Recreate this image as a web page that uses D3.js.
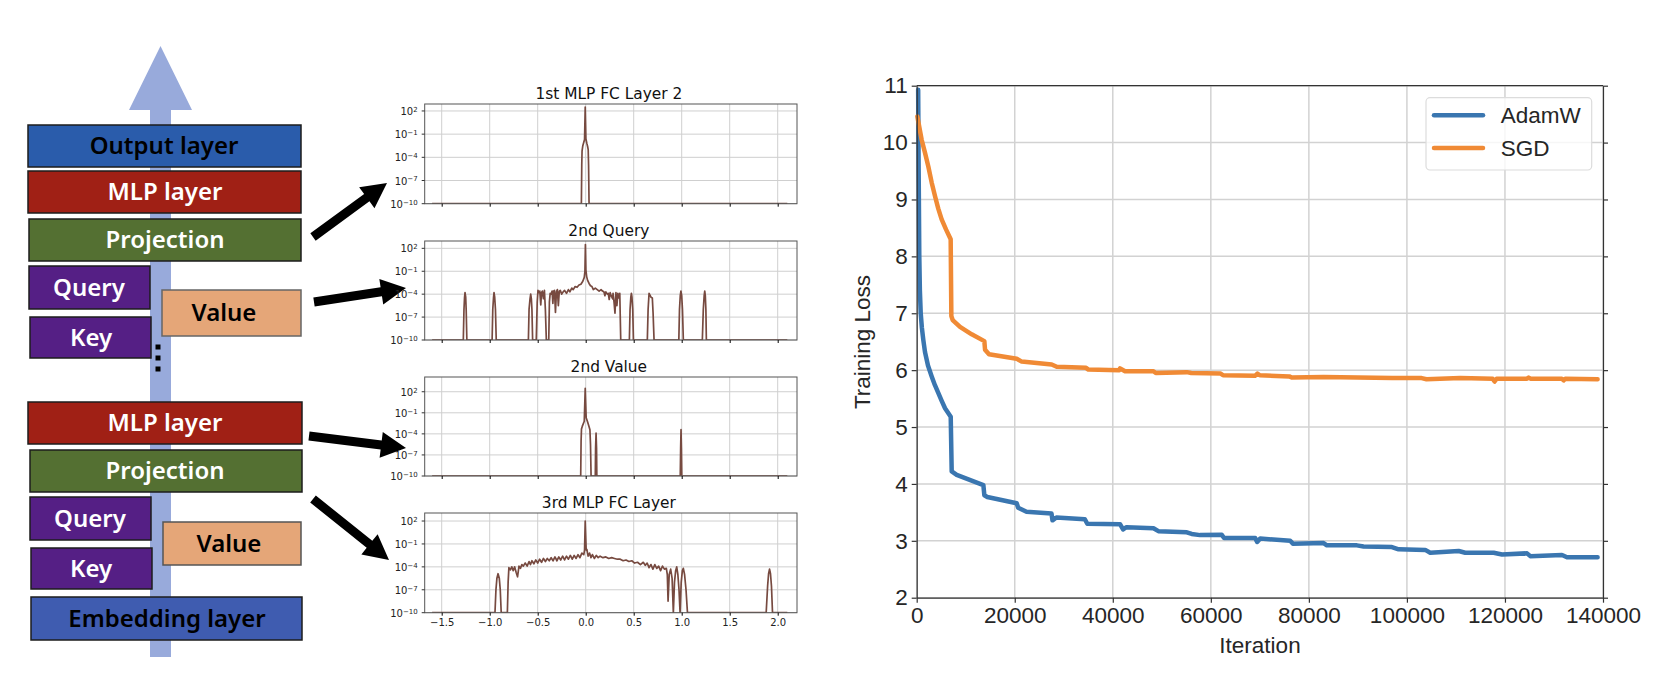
<!DOCTYPE html>
<html>
<head>
<meta charset="utf-8">
<script src="https://cdn.jsdelivr.net/npm/d3@7"></script>
<style>
html, body { margin: 0; padding: 0; background: #fff; }
svg { display: block; }
</style>
</head>
<body>
<div id="chart"></div>
<script>
// Layer stack labels, top to bottom
const layerLabels = ["Output layer", "MLP layer", "Projection", "Query", "Key", "Value",
	"MLP layer", "Projection", "Query", "Key", "Value", "Embedding layer"];

// Small panels: titles and x ticks
const panelTitles = ["1st MLP FC Layer 2", "2nd Query", "2nd Value", "3rd MLP FC Layer"];
const panelXTicks = [-1.5, -1, -0.5, 0, 0.5, 1, 1.5, 2];
const panelYExps = [2, -1, -4, -7, -10];

// Panel curves, x value and log10 of y
const mlp1X = [-1.6, -0.045, -0.041, -0.038, -0.03, -0.012, -0.005, 0.002, 0.012, 0.02, 0.026, 0.03, 0.035, 2.1];
const mlp1LogY = [-10, -10, -5, -3.2, -2.5, -1.7, 2.5, -1.6, -2.2, -2.6, -3, -5, -10, -10];

const queryX = [-1.6, -1.275, -1.268, -1.262, -1.257, -1.25, -1.245, -1.238, -0.975, -0.968, -0.96, -0.955, -0.948, -0.94, -0.932,
	-0.597, -0.59, -0.58, -0.573, -0.566, -0.56, -0.553, -0.515, -0.505, -0.497, -0.485, -0.478, -0.468, -0.46, -0.452, -0.44, -0.43,
	-0.42, -0.41, -0.385, -0.378, -0.37, -0.36, -0.35, -0.342, -0.335, -0.325, -0.315, -0.305, -0.295, -0.285, -0.275, -0.265,
	-0.25, -0.235, -0.22, -0.2, -0.18, -0.165, -0.145, -0.13, -0.11, -0.09, -0.07, -0.05, -0.03, -0.015, -0.008, -0.003,
	0.002, 0.01, 0.02, 0.035, 0.05, 0.065, 0.08, 0.1, 0.12, 0.14, 0.16, 0.175, 0.19, 0.2, 0.21, 0.225, 0.235, 0.245, 0.255, 0.265,
	0.28, 0.285, 0.295, 0.305, 0.315, 0.325, 0.335, 0.345, 0.355, 0.365,
	0.455, 0.462, 0.47, 0.476, 0.482, 0.49, 0.497, 0.642, 0.65, 0.66, 0.672, 0.68, 0.694, 0.702, 0.712,
	0.97, 0.977, 0.985, 0.992, 1, 1.008, 1.017, 1.215, 1.225, 1.234, 1.24, 1.246, 1.252, 1.257, 2.1];
const queryLogY = [-10, -10, -6, -4.4, -3.8, -4.4, -6, -10, -10, -6, -4.4, -3.8, -4.4, -6, -10,
	-10, -6, -4.6, -4, -4.6, -6, -10, -10, -5, -3.5, -3.8, -3.6, -5.4, -3.8, -3.6, -4.6, -3.5,
	-6, -10, -10, -5, -3.9, -4, -3.6, -5.2, -3.6, -3.5, -6.4, -3.7, -3.4, -5.5, -3.6, -3.5,
	-4, -3.7, -3.5, -3.9, -3.4, -3.7, -3.2, -3.4, -3, -3.1, -2.8, -2.7, -2.3, -1.8, -1, 2.5,
	-0.8, -1.7, -2.2, -2.6, -2.9, -3, -3.4, -3.2, -3.4, -3.6, -3.4, -3.6, -3.7, -4.2, -3.7, -4, -3.9, -4.7, -3.8, -4.2,
	-4.6, -3.9, -5, -6.5, -3.8, -5.5, -3.9, -4.5, -3.9, -10,
	-10, -6, -4.4, -3.9, -4.4, -6, -10, -10, -6, -3.9, -4.2, -4.4, -4.5, -6.5, -10,
	-10, -6, -4.2, -3.6, -4.2, -6, -10, -10, -6, -4.2, -3.6, -4.2, -6, -10, -10];

const valueX = [-1.6, -0.052, -0.048, -0.044, -0.035, -0.015, -0.005, 0.005, 0.02, 0.035, 0.044, 0.05, 0.056, 0.1, 0.103, 0.108, 0.113, 0.116,
	0.985, 0.989, 0.993, 0.997, 1.001, 2.1];
const valueLogY = [-10, -10, -5, -3.3, -2.9, -2.2, 2.5, -1.7, -2.3, -3, -3.4, -5.5, -10, -10, -6, -3.9, -6, -10,
	-10, -6, -3.4, -6, -10, -10];

const fc3X = [-1.6, -0.945, -0.935, -0.925, -0.913, -0.9, -0.89, -0.88, -0.816, -0.808, -0.8, -0.785, -0.77, -0.755, -0.74, -0.725, -0.71, -0.695, -0.68,
	-0.665, -0.65, -0.63, -0.61, -0.59, -0.575, -0.56, -0.54, -0.52, -0.5, -0.48, -0.46, -0.44, -0.42, -0.4, -0.38, -0.36, -0.34, -0.32, -0.3,
	-0.28, -0.26, -0.24, -0.22, -0.2, -0.18, -0.16, -0.14, -0.12, -0.1, -0.08, -0.06, -0.04, -0.02, -0.012, -0.005, 0.005, 0.012, 0.025,
	0.04, 0.055, 0.07, 0.09, 0.11, 0.13, 0.15, 0.18, 0.21, 0.24, 0.27, 0.3, 0.33, 0.36, 0.39, 0.42, 0.45, 0.48, 0.51, 0.54, 0.57, 0.6,
	0.62, 0.64, 0.66, 0.68, 0.7, 0.72, 0.74, 0.76, 0.78, 0.8, 0.82, 0.84, 0.85, 0.858, 0.87, 0.885, 0.9, 0.913, 0.925, 0.937, 0.948, 0.96, 0.972, 0.983,
	0.995, 1.007, 1.017, 1.03, 1.045, 1.06, 1.88, 1.895, 1.905, 1.915, 1.925, 1.935, 1.946, 2.1];
const fc3LogY = [-10, -10, -7, -5.5, -4.9, -5.5, -7, -10, -10, -6, -4.1, -4.4, -4, -4.5, -4, -4.7, -5.3, -3.9, -4.2,
	-3.7, -3.9, -3.5, -3.9, -3.3, -3.7, -3.2, -3.6, -3.1, -3.5, -3, -3.4, -2.9, -3.3, -2.9, -3.2, -2.8, -3.2, -2.7, -3.2,
	-2.7, -3.1, -2.6, -3.1, -2.6, -3, -2.5, -3, -2.5, -2.9, -2.4, -2.8, -2.2, -2.4, -1.8, 2, -1.8, -1.7, -2.6,
	-2.2, -2.8, -2.4, -2.9, -2.5, -2.8, -2.6, -2.8, -2.7, -2.9, -2.8, -2.9, -3, -3, -3.2, -3.1, -3.3, -3.2, -3.5, -3.4, -3.7, -3.4,
	-3.8, -3.5, -4.1, -3.7, -4.3, -3.7, -4.2, -3.9, -4.5, -3.9, -4.3, -4.2, -5, -8.5, -5, -4.3, -5.5, -10, -6, -4.5, -4, -5, -7, -10,
	-6, -4.5, -4.2, -5, -7, -10, -10, -6.5, -4.9, -4.3, -4.9, -6.5, -10, -10];

// Training loss
const lossXTicks = [0, 20000, 40000, 60000, 80000, 100000, 120000, 140000];
const lossYTicks = [2, 3, 4, 5, 6, 7, 8, 9, 10, 11];

const adamIter = [300, 400, 530, 650, 820, 1050, 1350, 1690, 2300, 3060, 3700, 4400, 5100, 5780, 6940, 7140, 8160, 13600, 13800, 14400, 20400, 20700, 22400, 27500, 27700, 28500,
	34300, 34800, 41500, 42100, 42800, 48300, 49300, 55100, 56100, 57800, 62240, 62700, 69050, 69450, 70070, 76190, 76740, 83000, 83670,
	89800, 91160, 96940, 98300, 103740, 104760, 110550, 111900, 117700, 119400, 124500, 125170, 131630, 132650, 138900];
const adamLoss = [10.93, 9.5, 8, 7.4, 7, 6.75, 6.53, 6.32, 6.08, 5.89, 5.74, 5.6, 5.46, 5.33, 5.18, 4.22, 4.16, 3.98, 3.8, 3.77, 3.66, 3.58, 3.51, 3.48, 3.36, 3.41,
	3.38, 3.3, 3.29, 3.2, 3.24, 3.22, 3.17, 3.15, 3.12, 3.1, 3.105, 3.05, 3.05, 2.98, 3.04, 3, 2.95, 2.96, 2.92,
	2.92, 2.9, 2.89, 2.85, 2.84, 2.79, 2.82, 2.79, 2.79, 2.76, 2.78, 2.73, 2.75, 2.71, 2.71];

const sgdIter = [130, 1010, 1700, 2370, 3050, 3730, 4400, 5090, 6000, 6930, 7070, 7340, 8840, 11220, 13800, 13940, 14750, 20400, 21420, 27540, 28560, 34550, 35020, 41300, 41490, 42510,
	48300, 48770, 55100, 56000, 62000, 62500, 69000, 69500, 70000, 76000, 76500, 83000, 90000, 97000, 103000, 104000, 110880, 117500, 117890, 118300, 124500, 124830, 125200, 131600, 131970, 132300, 138900];
const sgdLoss = [10.46, 10.05, 9.82, 9.58, 9.3, 9.06, 8.84, 8.65, 8.47, 8.3, 6.95, 6.88, 6.76, 6.63, 6.51, 6.36, 6.28, 6.2, 6.15, 6.1, 6.06, 6.04, 6.01, 6, 6.03, 5.98,
	5.98, 5.95, 5.965, 5.95, 5.94, 5.91, 5.9, 5.94, 5.91, 5.89, 5.87, 5.88, 5.87, 5.86, 5.86, 5.84, 5.86, 5.85, 5.8, 5.85, 5.85, 5.87, 5.85, 5.85, 5.82, 5.85, 5.84];

const seriesNames = ["AdamW", "SGD"];

const svg = d3.select('#chart').append('svg')
	.attr('width', 1666)
	.attr('height', 686);

// ###
// LAYER DIAGRAM
// ###

const stackBoxes = [
	{x: 28, y: 125, w: 273, h: 42, fill: '#2a5cab', ink: '#000', tx: 164},
	{x: 28, y: 171, w: 273, h: 42, fill: '#a02015', ink: '#fff', tx: 165},
	{x: 29, y: 219, w: 272, h: 42, fill: '#547032', ink: '#fff', tx: 165},
	{x: 29, y: 266, w: 121, h: 43, fill: '#551f85', ink: '#fff', tx: 89},
	{x: 30, y: 317, w: 121, h: 41, fill: '#551f85', ink: '#fff', tx: 91},
	{x: 162, y: 290, w: 139, h: 46, fill: '#e5a678', ink: '#000', tx: 224, edge: '#666'},
	{x: 28, y: 402, w: 274, h: 42, fill: '#a02015', ink: '#fff', tx: 165},
	{x: 30, y: 450, w: 272, h: 42, fill: '#547032', ink: '#fff', tx: 165},
	{x: 30, y: 497, w: 121, h: 43, fill: '#551f85', ink: '#fff', tx: 90},
	{x: 31, y: 548, w: 121, h: 41, fill: '#551f85', ink: '#fff', tx: 91},
	{x: 163, y: 522, w: 138, h: 43, fill: '#e5a678', ink: '#000', tx: 229, edge: '#555'},
	{x: 31, y: 597, w: 271, h: 43, fill: '#3f5cb0', ink: '#000', tx: 167}
];

const diagram = svg.append('g').attr('class', 'diagram');

// the big upward arrow behind the boxes
diagram.append('path')
	.attr('d', 'M150,657V110H129L160.5,46L192,110H171V657Z')
	.style('fill', '#98aadb');

diagram.selectAll('.layer')
	.data(stackBoxes)
	.enter().append('rect')
		.attr('class', 'layer')
		.attr('x', d => d.x)
		.attr('y', d => d.y)
		.attr('width', d => d.w)
		.attr('height', d => d.h)
		.style('fill', d => d.fill)
		.style('stroke', d => d.edge || '#1c1c1c')
		.style('stroke-width', 1.5);

diagram.selectAll('.layer-label')
	.data(stackBoxes)
	.enter().append('text')
		.attr('class', 'layer-label')
		.attr('x', d => d.tx)
		.attr('y', d => d.y + d.h / 2)
		.attr('dy', '.35em')
		.attr('text-anchor', 'middle')
		.style('font-family', '"Noto Sans", sans-serif')
		.style('font-size', '24px')
		.style('font-weight', 600)
		.style('fill', d => d.ink)
		.text((d, i) => layerLabels[i]);

// the three dots
diagram.selectAll('.dot')
	.data([347, 358, 369])
	.enter().append('rect')
		.attr('x', 155.5)
		.attr('y', d => d - 2.5)
		.attr('width', 5)
		.attr('height', 5)
		.style('fill', '#000');

// block arrows from the boxes to the panels
function blockArrow(tail, tip){
	const dx = tip[0] - tail[0],
		dy = tip[1] - tail[1],
		len = Math.hypot(dx, dy),
		ux = dx / len,
		uy = dy / len,
		shaft = 4.5,
		headLen = 25,
		headHalf = 13,
		bx = tip[0] - ux * headLen,
		by = tip[1] - uy * headLen;
	const pts = [
		[tail[0] - uy * shaft, tail[1] + ux * shaft],
		[bx - uy * shaft, by + ux * shaft],
		[bx - uy * headHalf, by + ux * headHalf],
		tip,
		[bx + uy * headHalf, by - ux * headHalf],
		[bx + uy * shaft, by - ux * shaft],
		[tail[0] + uy * shaft, tail[1] - ux * shaft]
	];
	return d3.line()(pts) + 'Z';
}

diagram.selectAll('.block-arrow')
	.data([
		[[313, 237], [387, 183]],
		[[314, 302], [406, 288]],
		[[309, 436], [406, 448]],
		[[313, 499], [389, 560]]
	])
	.enter().append('path')
		.attr('class', 'block-arrow')
		.attr('d', d => blockArrow(d[0], d[1]))
		.style('fill', '#000');

// ###
// SMALL PANELS
// ###

const panelLeft = 424.7,
	panelRight = 797,
	panelColor = '#774a40';

const panels = [
	{xs: mlp1X, ys: mlp1LogY, top: 104, bottom: 203.7, topExp: 2.9},
	{xs: queryX, ys: queryLogY, top: 241, bottom: 340, topExp: 2.96},
	{xs: valueX, ys: valueLogY, top: 377, bottom: 476, topExp: 4.1},
	{xs: fc3X, ys: fc3LogY, top: 513, bottom: 612.7, topExp: 3.05}
];

// x scale is shared, -1.5 sits at 441.7 and 2.0 at 777.7
const panelX = d3.scaleLinear()
	.domain([-1.5, 2])
	.range([441.7, 777.7]);

panels.forEach((p, i) => {
	const y = d3.scaleLog()
		.domain([1e-10, Math.pow(10, p.topExp)])
		.range([p.bottom, p.top]);

	const g = svg.append('g').attr('class', 'panel');

	g.append('clipPath').attr('id', 'panel-clip-' + i)
		.append('rect')
		.attr('x', panelLeft)
		.attr('y', p.top)
		.attr('width', panelRight - panelLeft)
		.attr('height', p.bottom - p.top);

	// gridlines
	g.selectAll('.grid-x')
		.data(panelXTicks)
		.enter().append('line')
			.attr('x1', d => panelX(d))
			.attr('x2', d => panelX(d))
			.attr('y1', p.top)
			.attr('y2', p.bottom)
			.style('stroke', '#cfcfcf')
			.style('stroke-width', 1);

	g.selectAll('.grid-y')
		.data(panelYExps)
		.enter().append('line')
			.attr('x1', panelLeft)
			.attr('x2', panelRight)
			.attr('y1', d => y(Math.pow(10, d)))
			.attr('y2', d => y(Math.pow(10, d)))
			.style('stroke', '#cfcfcf')
			.style('stroke-width', 1);

	const line = d3.line()
		.x(d => panelX(d[0]))
		.y(d => y(Math.pow(10, d[1])));

	g.append('path')
		.datum(d3.zip(p.xs, p.ys))
		.attr('d', line)
		.attr('clip-path', `url(#panel-clip-${i})`)
		.style('fill', 'none')
		.style('stroke', panelColor)
		.style('stroke-width', 1.7)
		.style('stroke-linejoin', 'round');

	// box
	g.append('rect')
		.attr('x', panelLeft)
		.attr('y', p.top)
		.attr('width', panelRight - panelLeft)
		.attr('height', p.bottom - p.top)
		.style('fill', 'none')
		.style('stroke', '#555')
		.style('stroke-width', 1);

	// x ticks, only the bottom panel gets labels
	const xAxis = g.append('g')
		.attr('transform', `translate(0,${p.bottom})`)
		.call(d3.axisBottom(panelX)
			.tickValues(panelXTicks)
			.tickSize(3)
			.tickFormat(i == panels.length - 1 ? d3.format('.1f') : ''));
	xAxis.select('.domain').remove();
	xAxis.selectAll('text')
		.style('font-family', '"DejaVu Sans", sans-serif')
		.style('font-size', '10px')
		.style('fill', '#222');

	// y ticks, drawn by hand because of the superscripts
	const yTick = g.selectAll('.y-tick')
		.data(panelYExps)
		.enter().append('g')
			.attr('transform', d => `translate(${panelLeft},${y(Math.pow(10, d))})`);

	yTick.append('line')
		.attr('x2', -3)
		.style('stroke', '#333');

	const yText = yTick.append('text')
		.attr('x', -7)
		.attr('dy', '.4em')
		.attr('text-anchor', 'end')
		.style('font-family', '"DejaVu Sans", sans-serif')
		.style('font-size', '10px')
		.style('fill', '#222');
	yText.append('tspan').text('10');
	yText.append('tspan')
		.attr('dy', '-.45em')
		.style('font-size', '7px')
		.text(d => d < 0 ? '\u2212' + (-d) : d);

	g.append('text')
		.attr('x', (panelLeft + panelRight) / 2 - 2)
		.attr('y', p.top - 5)
		.attr('text-anchor', 'middle')
		.style('font-family', '"DejaVu Sans", sans-serif')
		.style('font-size', '15.4px')
		.style('fill', '#111')
		.text(panelTitles[i]);
});

// ###
// TRAINING LOSS
// ###

const lossX = d3.scaleLinear()
	.domain([0, 140000])
	.range([916.7, 1603]);

const lossY = d3.scaleLinear()
	.domain([2, 11])
	.range([597.7, 85.7]);

const lossInk = '#262626',
	lossFont = '"Liberation Sans", Arial, sans-serif',
	gridColor = '#d2d2d2';

const lossChart = svg.append('g').attr('class', 'loss');

lossChart.selectAll('.grid-h')
	.data(lossYTicks)
	.enter().append('line')
		.attr('x1', lossX(0))
		.attr('x2', lossX(140000))
		.attr('y1', d => lossY(d))
		.attr('y2', d => lossY(d))
		.style('stroke', gridColor)
		.style('stroke-width', 1.5);

lossChart.selectAll('.grid-v')
	.data(lossXTicks)
	.enter().append('line')
		.attr('x1', d => lossX(d))
		.attr('x2', d => lossX(d))
		.attr('y1', lossY(11))
		.attr('y2', lossY(2))
		.style('stroke', gridColor)
		.style('stroke-width', 1.5);

const lossLine = d3.line()
	.x(d => lossX(d[0]))
	.y(d => lossY(d[1]));

const lossSeries = [
	{name: seriesNames[0], color: '#3a76b0', points: d3.zip(adamIter, adamLoss)},
	{name: seriesNames[1], color: '#f08a35', points: d3.zip(sgdIter, sgdLoss)}
];

lossChart.selectAll('.loss-line')
	.data(lossSeries)
	.enter().append('path')
		.attr('class', 'loss-line')
		.attr('d', d => lossLine(d.points))
		.style('fill', 'none')
		.style('stroke', d => d.color)
		.style('stroke-width', 4.5)
		.style('stroke-linejoin', 'round')
		.style('stroke-linecap', 'round');

// axes on three sides plus a bare line on top
function styleAxis(sel){
	sel.selectAll('path, line')
		.style('stroke', '#333')
		.style('stroke-width', 1.2);
	sel.selectAll('text')
		.style('font-family', lossFont)
		.style('font-size', '22.5px')
		.style('fill', lossInk);
}

lossChart.append('g')
	.attr('transform', `translate(${lossX(0)},0)`)
	.call(d3.axisLeft(lossY).tickValues(lossYTicks).tickSize(5).tickSizeOuter(0).tickPadding(4).tickFormat(d3.format('d')))
	.call(styleAxis);

lossChart.append('g')
	.attr('transform', `translate(${lossX(140000)},0)`)
	.call(d3.axisRight(lossY).tickValues(lossYTicks).tickSize(5).tickSizeOuter(0).tickFormat(''))
	.call(styleAxis);

lossChart.append('g')
	.attr('transform', `translate(0,${lossY(2)})`)
	.call(d3.axisBottom(lossX).tickValues(lossXTicks).tickSize(5).tickSizeOuter(0).tickPadding(4).tickFormat(d3.format('d')))
	.call(styleAxis);

lossChart.append('line')
	.attr('x1', lossX(0))
	.attr('x2', lossX(140000))
	.attr('y1', lossY(11))
	.attr('y2', lossY(11))
	.style('stroke', '#333')
	.style('stroke-width', 1.2);

lossChart.append('text')
	.attr('transform', `translate(862,342)rotate(-90)`)
	.attr('text-anchor', 'middle')
	.attr('dy', '.35em')
	.style('font-family', lossFont)
	.style('font-size', '22.5px')
	.style('fill', lossInk)
	.text('Training Loss');

lossChart.append('text')
	.attr('x', 1260)
	.attr('y', 653)
	.attr('text-anchor', 'middle')
	.style('font-family', lossFont)
	.style('font-size', '22.5px')
	.style('fill', lossInk)
	.text('Iteration');

// legend
const legend = lossChart.append('g').attr('class', 'legend');

legend.append('rect')
	.attr('x', 1426)
	.attr('y', 97.7)
	.attr('width', 165.7)
	.attr('height', 72.3)
	.attr('rx', 4)
	.style('fill', 'rgba(255,255,255,0.8)')
	.style('stroke', '#dcdcdc')
	.style('stroke-width', 1.2);

const legendItem = legend.selectAll('.legend-item')
	.data(lossSeries)
	.enter().append('g')
		.attr('class', 'legend-item')
		.attr('transform', (d, i) => `translate(1434,${115.3 + i * 32.7})`);

legendItem.append('line')
	.attr('x2', 49)
	.style('stroke', d => d.color)
	.style('stroke-width', 4.5)
	.style('stroke-linecap', 'round');

legendItem.append('text')
	.attr('x', 66.7)
	.attr('dy', '.35em')
	.style('font-family', lossFont)
	.style('font-size', '22.5px')
	.style('fill', lossInk)
	.text(d => d.name);
</script>
</body>
</html>
